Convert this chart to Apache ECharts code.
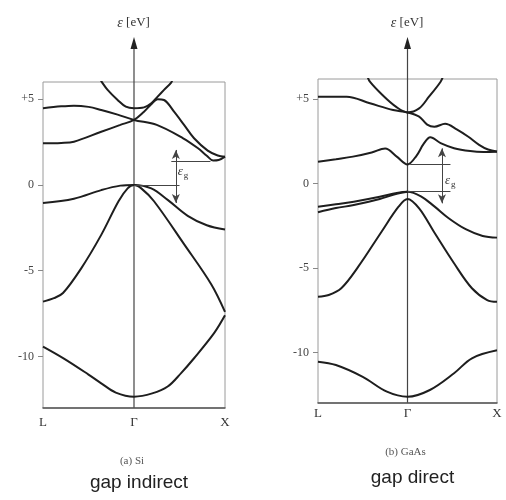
<!DOCTYPE html>
<html><head><meta charset="utf-8">
<script src="https://cdn.jsdelivr.net/npm/echarts@6/dist/echarts.min.js"></script>
<style>html,body{margin:0;padding:0;background:#fff}#c{width:506px;height:500px}</style>
</head><body><div id="c"></div>
<script>
// ---- axis ticks / labels ----
const kTicks = [-1, 0, 1];
const kLabels = ['L', 'Γ', 'X'];
const eTicks = [-10, -5, 0, 5];
const eTickLabels = ['-10', '-5', '0', '+5'];
const captions = ['(a) Si', '(b) GaAs'];
const notes = ['gap indirect', 'gap direct'];

// ---- Si bands: [k, E (eV)], k=-1 at L, 0 at Γ, 1 at X ----
const siBand1 = [[-1,-9.42],[-0.77,-10.12],[-0.5,-11.05],[-0.36,-11.56],[-0.2,-12.1],[0,-12.34],[0.2,-12.15],[0.37,-11.75],[0.52,-10.95],[0.66,-10.1],[0.88,-8.64],[1,-7.6]];
const siBand2 = [[-1,-6.8],[-0.88,-6.6],[-0.78,-6.3],[-0.58,-4.86],[-0.36,-2.91],[-0.17,-0.95],[-0.07,-0.2],[0,0],[0.08,-0.2],[0.22,-0.95],[0.55,-3.45],[0.85,-5.8],[1,-7.4]];
const siBand3 = [[-1,-1.05],[-0.66,-0.8],[-0.36,-0.3],[-0.15,-0.04],[0,0],[0.19,-0.2],[0.37,-0.87],[0.59,-1.8],[0.8,-2.35],[1,-2.6]];
const siBand4 = [[-1,2.43],[-0.8,2.45],[-0.66,2.52],[-0.36,3.1],[-0.15,3.5],[0,3.79],[0.11,4.27],[0.19,4.7],[0.26,5.0],[0.33,4.95],[0.44,4.27],[0.55,3.5],[0.66,2.72],[0.81,2.0],[0.92,1.72],[1,1.65]];
const siBand5 = [[-1,4.47],[-0.8,4.58],[-0.66,4.62],[-0.5,4.55],[-0.36,4.37],[-0.18,4.1],[0,3.79],[0.25,3.5],[0.54,2.72],[0.7,2.15],[0.8,1.7],[0.87,1.42],[0.93,1.45],[1,1.65]];
const siBand6 = [[-0.39,6.3],[-0.36,6.05],[-0.29,5.54],[-0.18,4.95],[-0.09,4.56],[0,4.47],[0.11,4.52],[0.19,4.76],[0.26,5.15],[0.33,5.54],[0.41,5.98],[0.43,6.3]];
// Si gap marker values
const siGapArrowK = 0.46, siGapArrowE = [2.04, -1.05];
const siGapUpperE = 1.4, siGapUpperK = [0.41, 0.84];
const siGapLowerE = 0, siGapLowerK = [0, 0.5];
const siGapLabel = [0.48, 0.76];

// ---- GaAs bands ----
const gaBand1 = [[-1,-10.55],[-0.8,-10.75],[-0.5,-11.45],[-0.23,-12.33],[0,-12.63],[0.25,-12.23],[0.52,-11.24],[0.72,-10.35],[1,-9.88]];
const gaBand2 = [[-1,-6.7],[-0.88,-6.6],[-0.74,-6.2],[-0.55,-4.92],[-0.29,-2.85],[-0.1,-1.37],[0,-0.91],[0.13,-1.47],[0.3,-2.9],[0.52,-4.72],[0.72,-6.2],[0.89,-6.9],[1,-7.0]];
const gaBand3 = [[-1,-1.37],[-0.8,-1.22],[-0.6,-1.07],[-0.31,-0.78],[-0.12,-0.55],[0,-0.48],[0.15,-0.75],[0.3,-1.35],[0.46,-2.05],[0.65,-2.7],[0.84,-3.1],[1,-3.2]];
const gaBand4 = [[-1,-1.7],[-0.8,-1.45],[-0.6,-1.27],[-0.31,-0.91],[-0.12,-0.6],[0,-0.48]];
const gaBand5 = [[-1,1.3],[-0.8,1.45],[-0.61,1.6],[-0.4,1.85],[-0.25,2.08],[-0.12,1.6],[0,1.14],[0.1,1.65],[0.18,2.35],[0.255,2.75],[0.37,2.4],[0.52,2.1],[0.7,1.93],[0.85,1.88],[1,1.89]];
const gaBand6 = [[-1,5.15],[-0.68,5.15],[-0.42,4.76],[-0.16,4.36],[0,4.22],[0.13,3.97],[0.22,3.5],[0.3,3.37],[0.42,3.55],[0.55,3.22],[0.68,2.78],[0.8,2.3],[0.9,2.02],[1,1.9]];
const gaBand7 = [[-0.45,6.4],[-0.42,6.04],[-0.28,5.25],[-0.13,4.56],[0,4.22],[0.13,4.46],[0.24,5.15],[0.37,6.04],[0.4,6.4]];
const gaGapArrowK = 0.385, gaGapArrowE = [2.09, -1.17];
const gaGapUpperE = 1.14, gaGapUpperK = [0.03, 0.48];
const gaGapLowerE = -0.48, gaGapLowerK = [0, 0.48];
const gaGapLabel = [0.42, 0.2];

// ---- layout ----
const panels = [
  {left:43, top:82, width:182, height:326, yMin:-13, yMax:6, xMargin:8, capY:461, noteY:483, capDX:-2, noteDX:5},
  {left:318, top:79, width:179, height:324, yMin:-13, yMax:6.2, xMargin:4, capY:452, noteY:478, capDX:-2, noteDX:5}
];
const gaps = [
  {arrowK:siGapArrowK, arrowE:siGapArrowE, upE:siGapUpperE, upK:siGapUpperK, loE:siGapLowerE, loK:siGapLowerK, label:siGapLabel},
  {arrowK:gaGapArrowK, arrowE:gaGapArrowE, upE:gaGapUpperE, upK:gaGapUpperK, loE:gaGapLowerE, loK:gaGapLowerK, label:gaGapLabel}
];
const bandSets = [
  [siBand1, siBand2, siBand3, siBand4, siBand5, siBand6],
  [gaBand1, gaBand2, gaBand3, gaBand4, gaBand5, gaBand6, gaBand7]
];

const serif = 'Liberation Serif';
const series = [];
bandSets.forEach((bands, i) => {
  bands.forEach((b, j) => {
    const s = {
      type:'line', xAxisIndex:i, yAxisIndex:i, data:b, smooth:0.35,
      showSymbol:false, symbol:'none', clip:true, silent:true,
      lineStyle:{color:'#1e1e1e', width:2}
    };
    if (j === 0) {
      const g = gaps[i];
      s.markLine = {
        silent:true, label:{show:false}, symbol:'none',
        lineStyle:{color:'#444', width:1, type:'solid'},
        data:[
          [{coord:[g.upK[0], g.upE]}, {coord:[g.upK[1], g.upE]}],
          [{coord:[g.loK[0], g.loE]}, {coord:[g.loK[1], g.loE]}],
          [{coord:[g.arrowK, g.arrowE[0]], symbol:'arrow', symbolSize:[6,9]},
           {coord:[g.arrowK, g.arrowE[1]], symbol:'arrow', symbolSize:[6,9]}]
        ]
      };
    }
    series.push(s);
  });
});

const chart = echarts.init(document.getElementById('c'), null, {renderer:'canvas'});
chart.setOption({
  animation:false,
  backgroundColor:'#ffffff',
  grid: panels.map(p => ({left:p.left, top:p.top, width:p.width, height:p.height,
    show:true, borderColor:'#9a9a9a', borderWidth:1, backgroundColor:'transparent'})),
  xAxis: panels.map((p, i) => ({
    gridIndex:i, type:'value', min:-1, max:1,
    axisLine:{show:true, onZero:false, lineStyle:{color:'#555', width:1.5}},
    axisTick:{show:false}, splitLine:{show:false},
    axisLabel:{customValues:kTicks, formatter:v => kLabels[kTicks.indexOf(v)],
      margin:p.xMargin, fontFamily:serif, fontSize:13, color:'#333'}
  })),
  yAxis: panels.map((p, i) => ({
    gridIndex:i, type:'value', min:p.yMin, max:p.yMax, position:'left',
    axisLine:{show:false, onZero:false}, splitLine:{show:false},
    axisTick:{show:true, customValues:eTicks, length:5, lineStyle:{color:'#888'}},
    axisLabel:{customValues:eTicks, formatter:v => eTickLabels[eTicks.indexOf(v)],
      margin:9, fontFamily:serif, fontSize:12, color:'#444'}
  })),
  series: series
});

// ---- decorations: Γ energy axis with arrow, captions, gap labels ----
const gr = [];
panels.forEach((p, i) => {
  const top = chart.convertToPixel({gridIndex:i}, [0, p.yMax]);
  const bot = chart.convertToPixel({gridIndex:i}, [0, p.yMin]);
  const x = top[0];
  gr.push({type:'line', silent:true, shape:{x1:x, y1:bot[1], x2:x, y2:44},
    style:{stroke:'#444', lineWidth:1.2}});
  gr.push({type:'polygon', silent:true, shape:{points:[[x,37],[x-3.5,49],[x+3.5,49]]},
    style:{fill:'#222'}});
  gr.push({type:'text', silent:true, x:x - 14, y:23,
    style:{text:'ε', font:'italic 14px "Liberation Serif"', fill:'#333',
      align:'center', verticalAlign:'middle', textAlign:'center', textVerticalAlign:'middle'}});
  gr.push({type:'text', silent:true, x:x + 4, y:23,
    style:{text:'[eV]', font:'13px "Liberation Serif"', fill:'#333',
      align:'center', verticalAlign:'middle', textAlign:'center', textVerticalAlign:'middle'}});
  const gl = chart.convertToPixel({gridIndex:i}, gaps[i].label);
  gr.push({type:'text', silent:true, x:gl[0], y:gl[1],
    style:{text:'ε', font:'italic 13px "Liberation Serif"', fill:'#333',
      align:'left', verticalAlign:'middle', textAlign:'left', textVerticalAlign:'middle'}});
  gr.push({type:'text', silent:true, x:gl[0] + 6, y:gl[1] + 4,
    style:{text:'g', font:'9px "Liberation Serif"', fill:'#333',
      align:'left', verticalAlign:'middle', textAlign:'left', textVerticalAlign:'middle'}});
  gr.push({type:'text', silent:true, x:x + p.capDX, y:p.capY,
    style:{text:captions[i], font:'11px "Liberation Serif"', fill:'#555',
      align:'center', verticalAlign:'middle', textAlign:'center', textVerticalAlign:'middle'}});
  gr.push({type:'text', silent:true, x:x + p.noteDX, y:p.noteY,
    style:{text:notes[i], font:'19px "Liberation Sans"', fill:'#222',
      align:'center', verticalAlign:'middle', textAlign:'center', textVerticalAlign:'middle'}});
});
chart.setOption({graphic:gr});
</script></body></html>
